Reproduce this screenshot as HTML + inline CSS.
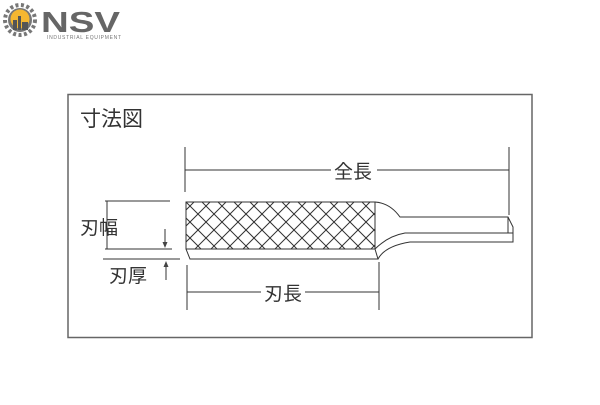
<!DOCTYPE html>
<html><head><meta charset="utf-8"><style>
body{margin:0;background:#fff;width:600px;height:400px;overflow:hidden}
text{font-family:"Liberation Sans","Noto Sans CJK JP",sans-serif;fill:#333}
</style></head><body>
<svg width="600" height="400" viewBox="0 0 600 400" xmlns="http://www.w3.org/2000/svg">
<defs>
<clipPath id="kc"><rect x="186" y="202" width="189" height="47"/></clipPath>
</defs>
<g>
<circle cx="20" cy="20" r="15" fill="none" stroke="#777" stroke-width="4" stroke-dasharray="3 2.5"/>
<circle cx="20" cy="20" r="12" fill="#777"/>
<circle cx="20" cy="19" r="9.5" fill="#f5b731"/>
<rect x="13" y="20" width="4" height="10" fill="#555"/>
<rect x="18" y="16" width="3" height="14" fill="#555"/>
<rect x="22" y="22" width="6" height="8" fill="#555"/>
<text x="41" y="32" font-size="29" font-weight="bold" textLength="79" lengthAdjust="spacingAndGlyphs" style="fill:#666">NSV</text>
<text x="47" y="39" font-size="5" textLength="74" style="fill:#777">INDUSTRIAL EQUIPMENT</text>
</g>
<rect x="68" y="94.5" width="464" height="243" fill="none" stroke="#666" stroke-width="1.5"/>
<text x="80" y="126" font-size="21">寸法図</text>
<g stroke="#333" stroke-width="1" fill="none">
<line x1="185" y1="147" x2="185" y2="192"/>
<line x1="509" y1="147" x2="509" y2="215"/>
<line x1="185" y1="170" x2="331" y2="170"/>
<line x1="377" y1="170" x2="509" y2="170"/>
<rect x="186" y="202" width="189" height="47"/>
<g clip-path="url(#kc)" stroke-width="1">
<path d="M106 202 l47 47 M122 202 l47 47 M138 202 l47 47 M154 202 l47 47 M170 202 l47 47 M186 202 l47 47 M202 202 l47 47 M218 202 l47 47 M234 202 l47 47 M250 202 l47 47 M266 202 l47 47 M282 202 l47 47 M298 202 l47 47 M314 202 l47 47 M330 202 l47 47 M346 202 l47 47 M362 202 l47 47"/>
<path d="M194 202 l-47 47 M210 202 l-47 47 M226 202 l-47 47 M242 202 l-47 47 M258 202 l-47 47 M274 202 l-47 47 M290 202 l-47 47 M306 202 l-47 47 M322 202 l-47 47 M338 202 l-47 47 M354 202 l-47 47 M370 202 l-47 47 M386 202 l-47 47 M402 202 l-47 47 M418 202 l-47 47 M434 202 l-47 47"/>
</g>
<path d="M186 249 L190 259 L378 259 L375 249"/>
<path d="M375 202 Q390 203 400 217 L508 217 L513 227 L513 242 L410 242 Q385 246 378 259"/>
<path d="M375 249 Q388 236 405 233 L513 233"/>
<line x1="508" y1="217" x2="508" y2="233"/>
<line x1="105" y1="201" x2="170" y2="201"/>
<line x1="105" y1="249" x2="172" y2="249"/>
<line x1="107" y1="201" x2="107" y2="249"/>
<line x1="165" y1="229" x2="165" y2="246"/>
<line x1="103" y1="259" x2="180" y2="259"/>
<line x1="166" y1="264" x2="166" y2="280"/>
<line x1="187" y1="265" x2="187" y2="310"/>
<line x1="379" y1="262" x2="379" y2="310"/>
<line x1="187" y1="292" x2="261" y2="292"/>
<line x1="305" y1="292" x2="379" y2="292"/>
</g>
<path d="M162.5 242 L165 248 L167.5 242Z" fill="#444"/>
<path d="M163.5 267 L166 261 L168.5 267Z" fill="#444"/>
<text x="334" y="178" font-size="19">全長</text>
<text x="80" y="234" font-size="19">刃幅</text>
<text x="109" y="282" font-size="19">刃厚</text>
<text x="264" y="300" font-size="19">刃長</text>
</svg>
</body></html>
